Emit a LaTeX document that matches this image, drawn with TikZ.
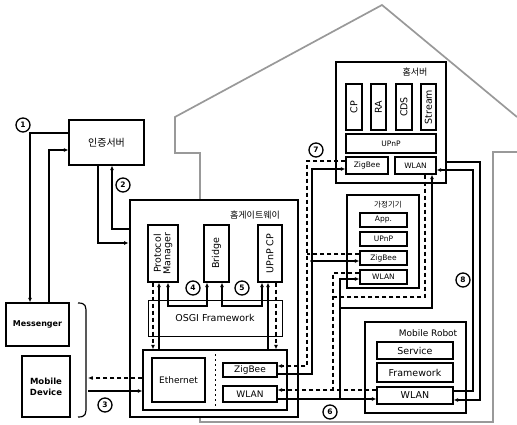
\documentclass[tikz,border=0pt]{standalone}
\usepackage{fontspec}
\setmainfont{DejaVu Sans}
\newfontfamily\kr{Noto Sans CJK KR}
\usetikzlibrary{arrows.meta}
\begin{document}
\begin{tikzpicture}[x=1pt,y=-1pt,
  box/.style={draw, line width=1.3pt, fill=white, inner sep=0pt, align=center, font=\fontsize{9}{10}\selectfont},
  big/.style={draw, line width=2.8pt, fill=white, inner sep=0pt},
  rtext/.style={rotate=90, align=center, inner sep=0pt, font=\fontsize{9.5}{9.5}\selectfont},
  conn/.style={line width=1.2pt},
  dconn/.style={line width=1.2pt, dash pattern=on 4pt off 3pt},
  arr/.style={-{Latex[length=4.5pt,width=4pt]}},
  barr/.style={{Latex[length=4.5pt,width=4pt]}-{Latex[length=4.5pt,width=4pt]}},
  num/.style={circle, draw, line width=1.3pt, inner sep=0pt, minimum size=14pt, font=\bfseries\fontsize{7.5}{7.5}\selectfont, fill=white},
  house/.style={draw=gray!80, line width=1.7pt, line join=miter}
]
\useasboundingbox (0,0) rectangle (517,425);

% house outline
\draw[house] (517,152) -- (493,152) -- (493,422) -- (200,422) -- (200,153) -- (175,153) -- (175,117) -- (382,5) -- (517,117);

% left side
\node[box, line width=1.2pt, minimum width=75pt, minimum height=45pt] (auth) at (106.5,142.5) {\kr\fontsize{10}{10}\selectfont 인증서버};
\node[box, minimum width=63pt, minimum height=43pt, font=\bfseries\fontsize{8}{9}\selectfont] (msg) at (37.5,324.5) {Messenger};
\node[box, minimum width=48pt, minimum height=61pt, font=\bfseries\fontsize{8.5}{11}\selectfont] (mob) at (46,386.5) {Mobile\\Device};

% gateway
\node[big, minimum width=168pt, minimum height=217pt] (gw) at (214,308.5) {};
\node[inner sep=0pt, font=\kr\fontsize{9}{9}\selectfont] (gwl) at (255,215) {홈게이트웨이};
\node[box, minimum width=30pt, minimum height=57pt] (pm) at (163,253.5) {};
\node[rtext] (pmt) at (pm.center) {Protocol\\Manager};
\node[box, minimum width=25pt, minimum height=57pt] (bri) at (216.5,253.5) {};
\node[rtext] (brit) at (bri.center) {Bridge};
\node[box, minimum width=24pt, minimum height=57pt] (upnp) at (270,253.5) {};
\node[rtext] (upnpt) at (upnp.center) {UPnP CP};
\node[box, line width=0.9pt, minimum width=134pt, minimum height=36pt, font=\fontsize{9.5}{10}\selectfont] (osgi) at (215,318) {OSGI Framework};
\node[box, minimum width=144pt, minimum height=60pt] (net) at (215,380) {};
\node[box, minimum width=53pt, minimum height=44pt, font=\fontsize{9}{10}\selectfont] (eth) at (178.5,380) {Ethernet};
\node[box, minimum width=54pt, minimum height=14pt] (gzig) at (250,370) {ZigBee};
\node[box, minimum width=54pt, minimum height=16pt] (gwlan) at (250,394) {WLAN};
\draw[line width=0.8pt, dash pattern=on 2pt off 3pt] (215,354) -- (215,406);

% home server
\node[big, minimum width=110pt, minimum height=121pt] (hs) at (391,122.5) {};
\node[inner sep=0pt, font=\kr\fontsize{9}{9}\selectfont] (hsl) at (415,72) {홈서버};
\node[box, minimum width=16pt, minimum height=46pt] (cp) at (354,107) {};
\node[rtext] at (cp.center) {CP};
\node[box, minimum width=15pt, minimum height=46pt] (ra) at (378.5,107) {};
\node[rtext] at (ra.center) {RA};
\node[box, minimum width=16pt, minimum height=46pt] (cds) at (404,107) {};
\node[rtext] at (cds.center) {CDS};
\node[box, minimum width=15pt, minimum height=46pt] (strm) at (428.5,107) {};
\node[rtext] at (strm.center) {Stream};
\node[box, minimum width=90pt, minimum height=19pt, font=\fontsize{7.5}{8}\selectfont] (hsupnp) at (391,143.5) {UPnP};
\node[box, minimum width=42pt, minimum height=17pt, font=\fontsize{7.5}{8}\selectfont] (hszig) at (367,165.5) {ZigBee};
\node[box, minimum width=41pt, minimum height=17pt, font=\fontsize{7.5}{8}\selectfont] (hswlan) at (415.5,165.5) {WLAN};

% home appliance
\node[big, minimum width=72pt, minimum height=93pt] (ha) at (383,241.5) {};
\node[inner sep=0pt, font=\kr\fontsize{7.5}{8}\selectfont] (hal) at (388,205) {가정기기};
\node[box, minimum width=47pt, minimum height=14pt, font=\fontsize{7.5}{8}\selectfont] (haapp) at (383.5,220) {App.};
\node[box, minimum width=47pt, minimum height=14pt, font=\fontsize{7.5}{8}\selectfont] (haupnp) at (383.5,239) {UPnP};
\node[box, minimum width=47pt, minimum height=14pt, font=\fontsize{7.5}{8}\selectfont] (hazig) at (383.5,258) {ZigBee};
\node[box, minimum width=47pt, minimum height=14pt, font=\fontsize{7.5}{8}\selectfont] (hawlan) at (383.5,277) {WLAN};

% mobile robot
\node[big, minimum width=101pt, minimum height=91pt] (mr) at (415.5,367.5) {};
\node[inner sep=0pt, font=\fontsize{9}{9}\selectfont] (mrl) at (428,333) {Mobile Robot};
\node[box, minimum width=76pt, minimum height=17pt, font=\fontsize{9.5}{10}\selectfont] (svc) at (415,350.5) {Service};
\node[box, minimum width=76pt, minimum height=19pt, font=\fontsize{9.5}{10}\selectfont] (fw) at (415,372.5) {Framework};
\node[box, minimum width=76pt, minimum height=17pt, font=\fontsize{9.5}{10}\selectfont] (mrwlan) at (415,395.5) {WLAN};

% auth server <-> messenger / gateway
\draw[conn,arr] (auth.west |- 0,133) -| (msg.north -| 30,0);
\draw[conn,arr] (msg.north -| 49,0) |- (auth.west |- 0,150);
\draw[conn,arr] (auth.south -| 98,0) |- (gw.west |- 0,243);
\draw[conn,arr] (gw.west |- 0,229) -| (auth.south -| 112,0);

% mobile device brace and links
\draw[line width=1.2pt] (78,303) .. controls (86,303) and (86,306) .. (86,314) -- (86,406) .. controls (86,414) and (86,417) .. (78,417);
\coordinate (bd) at (88,378);
\coordinate (bs) at (88,391);
\draw[dconn,arr] (net.west |- 0,378) -- (bd);
\draw[conn,arr] (bs) -- (net.west |- 0,391);

% inside gateway
\draw[dconn,arr] (pm.south -| 153,0) -- (net.north -| 153,0);
\draw[conn,arr] (net.north -| 159,0) -- (pm.south -| 159,0);
\draw[conn,barr] (pm.south -| 168,0) -- (168,306) -- (207,306) -- (bri.south -| 207,0);
\draw[conn,barr] (bri.south -| 222,0) -- (222,306) -- (262,306) -- (upnp.south -| 262,0);
\draw[conn,arr] (net.north -| 268,0) -- (upnp.south -| 268,0);
\draw[dconn,arr] (upnp.south -| 276,0) -- (net.north -| 276,0);

% ZigBee channel
\draw[conn,arr] (gzig.east |- 0,374) -- (312,374) -- (312,169) -- (hszig.west |- 0,169);
\draw[conn,arr] (312,261) -- (hazig.west |- 0,261);
\fill (312,261) circle (1.8pt);
\draw[dconn,arr] (hszig.west |- 0,161) -- (307,161) -- (307,366) -- (gzig.east |- 0,366);
\draw[dconn] (hazig.west |- 0,254) -- (307,254);

% WLAN channel
\draw[conn,arr] (gwlan.east |- 0,399) -- (mrwlan.west |- 0,399);
\draw[conn,arr] (340,399) -- (340,279) -- (hawlan.west |- 0,279);
\draw[conn,arr] (340,308) -- (432,308) -- (hswlan.south -| 432,0);
\draw[dconn,arr] (mrwlan.west |- 0,390) -- (gwlan.east |- 0,390);
\draw[dconn] (hawlan.west |- 0,273) -- (333,273) -- (333,390);
\draw[dconn] (hswlan.south -| 425,0) -- (425,297) -- (333,297);

% robot <-> home server
\draw[conn,arr] (mrwlan.east |- 0,391) -- (473,391) -- (473,170) -- (hswlan.east |- 0,170);
\draw[conn,arr] (hs.east |- 0,162) -- (480,162) -- (480,400) -- (mrwlan.east |- 0,400);

% step numbers
\node[num] (n1) at (23,125) {1};
\node[num] (n2) at (123,185) {2};
\node[num] (n3) at (105,405) {3};
\node[num] (n4) at (193,288) {4};
\node[num] (n5) at (242,288) {5};
\node[num] (n6) at (330,412) {6};
\node[num] (n7) at (316,150) {7};
\node[num] (n8) at (463,280) {8};
\end{tikzpicture}
\end{document}
